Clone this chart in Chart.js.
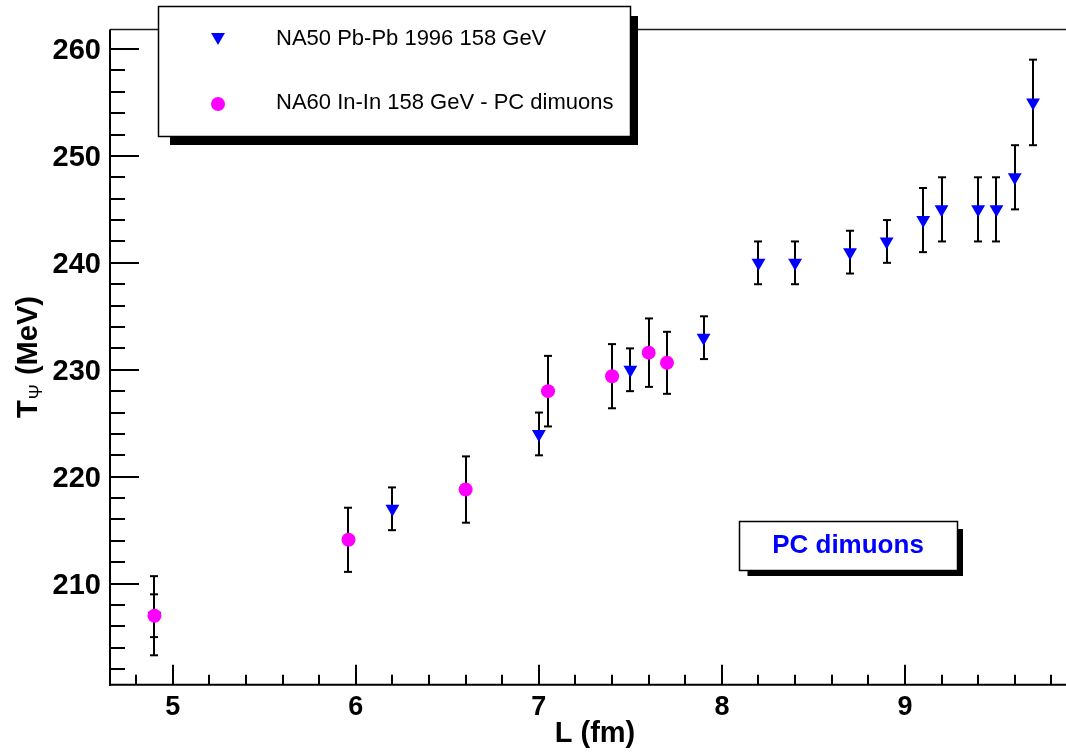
<!DOCTYPE html>
<html>
<head>
<meta charset="utf-8">
<title>T psi vs L</title>
<script src="https://cdn.jsdelivr.net/npm/chart.js@4.4.0/dist/chart.umd.min.js"></script>
<style>
  html, body { margin: 0; padding: 0; background: #fff; overflow: hidden; }
  canvas { display: block; }
</style>
</head>
<body>
<canvas id="tpsiChart" width="1066" height="753"></canvas>
<script>
// NA50 Pb-Pb points (L in fm, T in MeV, error in MeV)
const na50L = [4.9, 6.2, 7.0, 7.5, 7.9, 8.2, 8.4, 8.7, 8.9, 9.1, 9.2, 9.4, 9.5, 9.6, 9.7];
const na50T = [207, 217, 224, 230, 233, 240, 240, 241, 242, 244, 245, 245, 245, 248, 255];
const na50Err = [2, 2, 2, 2, 2, 2, 2, 2, 2, 3, 3, 3, 3, 3, 4];

// NA60 In-In points
const na60L = [4.9, 5.96, 6.6, 7.05, 7.4, 7.6, 7.7];
const na60T = [207, 214.1, 218.8, 228.0, 229.4, 231.6, 230.65];
const na60Err = [3.7, 3.0, 3.1, 3.3, 3.0, 3.2, 2.9];

const xTickLabels = [5, 6, 7, 8, 9];
const yTickLabels = [210, 220, 230, 240, 250, 260];
const legendLabels = ['NA50 Pb-Pb 1996 158 GeV', 'NA60 In-In 158 GeV - PC dimuons'];
const boxText = 'PC dimuons';

const FONT = '"Liberation Sans", Arial, Helvetica, sans-serif';

function toPoints(xs, ys) {
    return xs.map((x, i) => ({ x: x, y: ys[i] }));
}

function line(ctx, x1, y1, x2, y2) {
    ctx.beginPath();
    ctx.moveTo(x1, y1);
    ctx.lineTo(x2, y2);
    ctx.stroke();
}

// vertical error bars with small caps, drawn under the markers
const errorBars = {
    id: 'errorBars',
    beforeDatasetsDraw(chart) {
        const ctx = chart.ctx;
        const xs = chart.scales.x;
        const ys = chart.scales.y;
        ctx.save();
        ctx.strokeStyle = '#000';
        ctx.lineWidth = 2;
        chart.data.datasets.forEach(ds => {
            ds.data.forEach((p, i) => {
                const px = Math.round(xs.getPixelForValue(p.x));
                const top = ys.getPixelForValue(p.y + ds.errors[i]);
                const bot = ys.getPixelForValue(p.y - ds.errors[i]);
                line(ctx, px, top, px, bot);
                line(ctx, px - 4, top, px + 4, top);
                line(ctx, px - 4, bot, px + 4, bot);
            });
        });
        ctx.restore();
    }
};

function triangleDown(ctx, x, y, r) {
    ctx.beginPath();
    ctx.moveTo(x - r * 0.866, y - r * 0.5);
    ctx.lineTo(x + r * 0.866, y - r * 0.5);
    ctx.lineTo(x, y + r);
    ctx.closePath();
    ctx.fill();
}

// ROOT style frame: inner ticks, labels, titles, legend and text box
const rootFrame = {
    id: 'rootFrame',
    afterDraw(chart) {
        const ctx = chart.ctx;
        const a = chart.chartArea;
        const xs = chart.scales.x;
        const ys = chart.scales.y;
        ctx.save();

        ctx.strokeStyle = '#1a1a1a';
        ctx.lineWidth = 1.5;
        line(ctx, a.left, a.top, a.right, a.top);

        ctx.strokeStyle = '#000';
        ctx.lineWidth = 2;
        line(ctx, a.left, a.top, a.left, a.bottom + 1);
        line(ctx, a.left - 1, a.bottom, a.right, a.bottom);

        // y ticks, minor every 2 MeV
        for (let v = 202; v <= 260; v += 2) {
            const py = Math.round(ys.getPixelForValue(v));
            const len = v % 10 === 0 ? 29 : 15;
            line(ctx, a.left, py, a.left + len, py);
        }
        // x ticks, minor every 0.2 fm
        for (let k = 24; k <= 49; k++) {
            const px = Math.round(xs.getPixelForValue(k / 5));
            const len = k % 5 === 0 ? 20 : 10;
            line(ctx, px, a.bottom, px, a.bottom - len);
        }

        ctx.fillStyle = '#000';
        ctx.font = 'bold 29px ' + FONT;
        ctx.textAlign = 'right';
        ctx.textBaseline = 'alphabetic';
        yTickLabels.forEach(v => {
            ctx.fillText(String(v), 101, ys.getPixelForValue(v) + 10);
        });
        ctx.font = 'bold 27px ' + FONT;
        ctx.textAlign = 'center';
        xTickLabels.forEach(v => {
            ctx.fillText(String(v), xs.getPixelForValue(v), 715);
        });

        // axis titles
        ctx.font = 'bold 29px ' + FONT;
        ctx.fillText('L (fm)', 595, 742);

        ctx.save();
        ctx.translate(37, 357);
        ctx.rotate(-Math.PI / 2);
        ctx.textAlign = 'left';
        ctx.font = 'bold 29px ' + FONT;
        const wT = ctx.measureText('T').width;
        const wRest = ctx.measureText(' (MeV)').width;
        ctx.font = '18px ' + FONT;
        const wPsi = ctx.measureText('\u03A8').width;
        let cx = -(wT + wPsi + 2 + wRest) / 2;
        ctx.font = 'bold 29px ' + FONT;
        ctx.fillText('T', cx, 0);
        cx += wT + 1;
        ctx.font = '18px ' + FONT;
        ctx.fillText('\u03A8', cx, 5);
        cx += wPsi + 1;
        ctx.font = 'bold 29px ' + FONT;
        ctx.fillText(' (MeV)', cx, 0);
        ctx.restore();

        // legend box with shadow
        ctx.fillStyle = '#000';
        ctx.fillRect(170, 16, 468, 129);
        ctx.fillStyle = '#fff';
        ctx.fillRect(158.5, 6.5, 472, 130);
        ctx.lineWidth = 1.5;
        ctx.strokeRect(158.5, 6.5, 472, 130);

        ctx.fillStyle = '#0000ff';
        triangleDown(ctx, 218, 37, 8);
        ctx.fillStyle = '#ff00ff';
        ctx.beginPath();
        ctx.arc(218, 104, 7, 0, Math.PI * 2);
        ctx.fill();

        ctx.fillStyle = '#000';
        ctx.font = '22px ' + FONT;
        ctx.textAlign = 'left';
        ctx.fillText(legendLabels[0], 276, 45);
        ctx.fillText(legendLabels[1], 276, 108.5);

        // "PC dimuons" label box
        ctx.fillStyle = '#000';
        ctx.fillRect(747.5, 529, 215.5, 47);
        ctx.fillStyle = '#fff';
        ctx.fillRect(739.5, 521.5, 218, 49);
        ctx.strokeRect(739.5, 521.5, 218, 49);
        ctx.fillStyle = '#0000ff';
        ctx.font = 'bold 26px ' + FONT;
        ctx.textAlign = 'center';
        ctx.fillText(boxText, 848, 553);

        ctx.restore();
    }
};

const tpsiChart = new Chart(document.getElementById('tpsiChart'), {
    type: 'scatter',
    data: {
        datasets: [
            {
                label: legendLabels[1],
                data: toPoints(na60L, na60T),
                errors: na60Err,
                pointStyle: 'circle',
                pointRadius: 7,
                pointBackgroundColor: '#ff00ff',
                pointBorderWidth: 0,
                order: 0
            },
            {
                label: legendLabels[0],
                data: toPoints(na50L, na50T),
                errors: na50Err,
                pointStyle: 'triangle',
                pointRotation: 180,
                pointRadius: 8,
                pointBackgroundColor: '#0000ff',
                pointBorderWidth: 0,
                order: 1
            }
        ]
    },
    options: {
        responsive: false,
        animation: false,
        devicePixelRatio: 1,
        events: [],
        layout: {
            autoPadding: false,
            padding: { left: 110, top: 29.5, right: 0, bottom: 68.3 }
        },
        plugins: {
            legend: { display: false },
            tooltip: { enabled: false }
        },
        scales: {
            x: { type: 'linear', min: 4.657, max: 9.88, display: false },
            y: { type: 'linear', min: 200.55, max: 261.82, display: false }
        }
    },
    plugins: [errorBars, rootFrame]
});
</script>
</body>
</html>
